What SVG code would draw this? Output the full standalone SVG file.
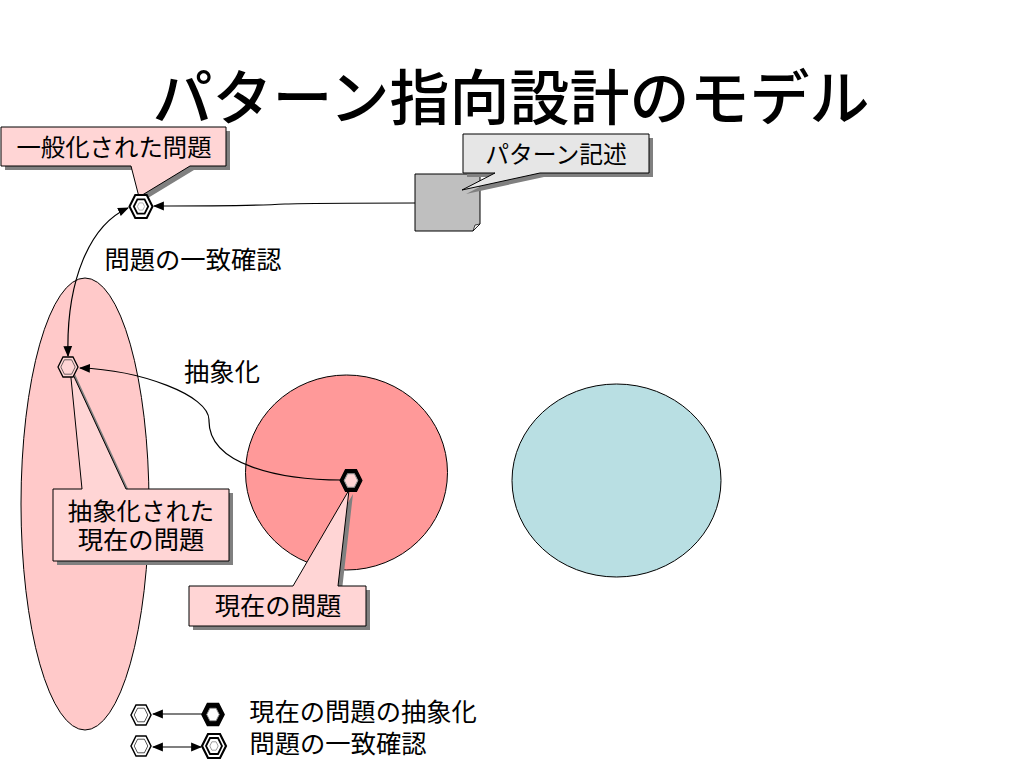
<svg xmlns="http://www.w3.org/2000/svg" width="1024" height="768" viewBox="0 0 1024 768">
<style>
text{font-family:"Noto Sans CJK JP","Noto Sans CJK SC",sans-serif;fill:#000;text-anchor:middle}
.t{font-size:25.300px}
.k{font-size:24.400px}
.title{font-size:60px;font-weight:500}
.sh{fill:#808080;stroke:none}
.pk{fill:#ffd5d5;stroke:#000;stroke-width:1}
.gr{fill:#e6e6e6;stroke:#000;stroke-width:1}
.c{fill:none;stroke:#000;stroke-width:1.200}
.hx{fill:#fff;stroke:#000}
</style>
<defs>
<marker id="ah" viewBox="0 0 10 10" refX="9" refY="5" markerWidth="11" markerHeight="11" markerUnits="userSpaceOnUse" orient="auto-start-reverse"><path d="M0 1L10 5L0 9Z" fill="#000"/></marker>
<polygon id="hex" points="-10,0 -5,-10 5,-10 10,0 5,10 -5,10"/>
<path id="call1" d="M1 127H226V166H190L139 197L131 166H1Z"/>
<path id="call2" d="M463 134H649V173H540L462 190L495 173H463Z"/>
<path id="call3" d="M53 489H82L70 368L126 489H229V561H53Z"/>
<path id="call4" d="M189 586H293L349 490L338 586H366V626H189Z"/>
</defs>
<g id="title"><text class="title" x="511" y="120">パターン指向設計のモデル</text></g>
<g id="areas">
<ellipse cx="85" cy="504" rx="64" ry="226" fill="#ffc9c9" stroke="#000"/>
<ellipse cx="346.500" cy="472.500" rx="101" ry="97.500" fill="#ff9999" stroke="#000"/>
<ellipse cx="616.500" cy="480.500" rx="104.500" ry="96.500" fill="#b9dfe3" stroke="#000"/>
</g>
<g id="note">
<path d="M415 174H480V224L473 231H415Z" fill="#bfbfbf" stroke="#000"/>
<path d="M473 231L475 225L480 224Z" fill="#eee" stroke="#000" stroke-width=".7"/>
</g>
<g id="connectors">
<path class="c" d="M415 203C370 203 310 203 285 204C250 206 190 206 154 206" marker-end="url(#ah)"/>
<path class="c" d="M128 208C90 225 66 280 68 356" marker-start="url(#ah)" marker-end="url(#ah)"/>
<path class="c" d="M342 480C280 480 208 465 209 420C209 395 140 370 80 368" marker-end="url(#ah)"/>
</g>
<g id="pattern-general">
<use href="#call1" class="sh" transform="translate(4 4)"/>
<use href="#call1" class="pk"/>
<text class="k" x="114" y="156">一般化された問題</text>
<g transform="translate(141 206.500)">
<use href="#hex" class="hx" stroke-width="1.800" transform="scale(1.150)"/>
<use href="#hex" class="hx" stroke-width="2.500" transform="scale(.72)"/>
<use href="#hex" fill="#fff" stroke="#777" stroke-width="1.500" transform="scale(.36)"/>
</g>
</g>
<g id="pattern-description">
<use href="#call2" class="sh" transform="translate(4 4)"/>
<use href="#call2" class="gr"/>
<text x="556" y="163" style="font-size:23.800px">パターン記述</text>
</g>
<g id="pattern-abstract">
<use href="#call3" class="sh" transform="translate(4 4)"/>
<use href="#call3" class="pk"/>
<text class="k" x="141" y="520">抽象化された</text>
<text class="t" x="141" y="549">現在の問題</text>
<g transform="translate(68 367)">
<use href="#hex" fill="#ffd5d5" stroke="#000" stroke-width="1.300"/>
<use href="#hex" fill="#ffd5d5" stroke="#333" stroke-width="1" transform="scale(.72)"/>
</g>
</g>
<g id="pattern-current">
<use href="#call4" class="sh" transform="translate(4 4)"/>
<use href="#call4" class="pk"/>
<text class="t" x="278" y="615">現在の問題</text>
<g transform="translate(351 480.500)">
<use href="#hex" fill="#000" stroke="#000" transform="scale(1.100)"/>
<use href="#hex" fill="#ffd5d5" stroke="#999" stroke-width="1.500" transform="scale(.68)"/>
</g>
</g>
<g id="labels">
<text class="t" x="193" y="269">問題の一致確認</text>
<text class="t" x="222" y="381">抽象化</text>
<text class="t" x="363" y="721">現在の問題の抽象化</text>
<text class="t" x="338" y="753">問題の一致確認</text>
</g>
<g id="legend">
<path class="c" stroke-width="1.500" d="M203 714H153" marker-end="url(#ah)"/>
<path class="c" stroke-width="1.500" d="M153 747H201" marker-start="url(#ah)" marker-end="url(#ah)"/>
<g transform="translate(141 715)">
<use href="#hex" class="hx" stroke-width="1.500"/>
<use href="#hex" class="hx" stroke-width="1" transform="scale(.68)"/>
</g>
<g transform="translate(141 746)">
<use href="#hex" class="hx" stroke-width="1.500"/>
<use href="#hex" class="hx" stroke-width="1" transform="scale(.68)"/>
</g>
<g transform="translate(213 714.500)">
<use href="#hex" fill="#000" stroke="#000" stroke-width="1.500" transform="scale(1.100)"/>
<use href="#hex" fill="#fff" stroke="#999" stroke-width="1.500" transform="scale(.62)"/>
</g>
<g transform="translate(214 746)">
<use href="#hex" class="hx" stroke-width="1.800" transform="scale(1.200)"/>
<use href="#hex" class="hx" stroke-width="2.200" transform="scale(.8)"/>
<use href="#hex" fill="#fff" stroke="#666" stroke-width="1.500" transform="scale(.42)"/>
</g>
</g>
</svg>
